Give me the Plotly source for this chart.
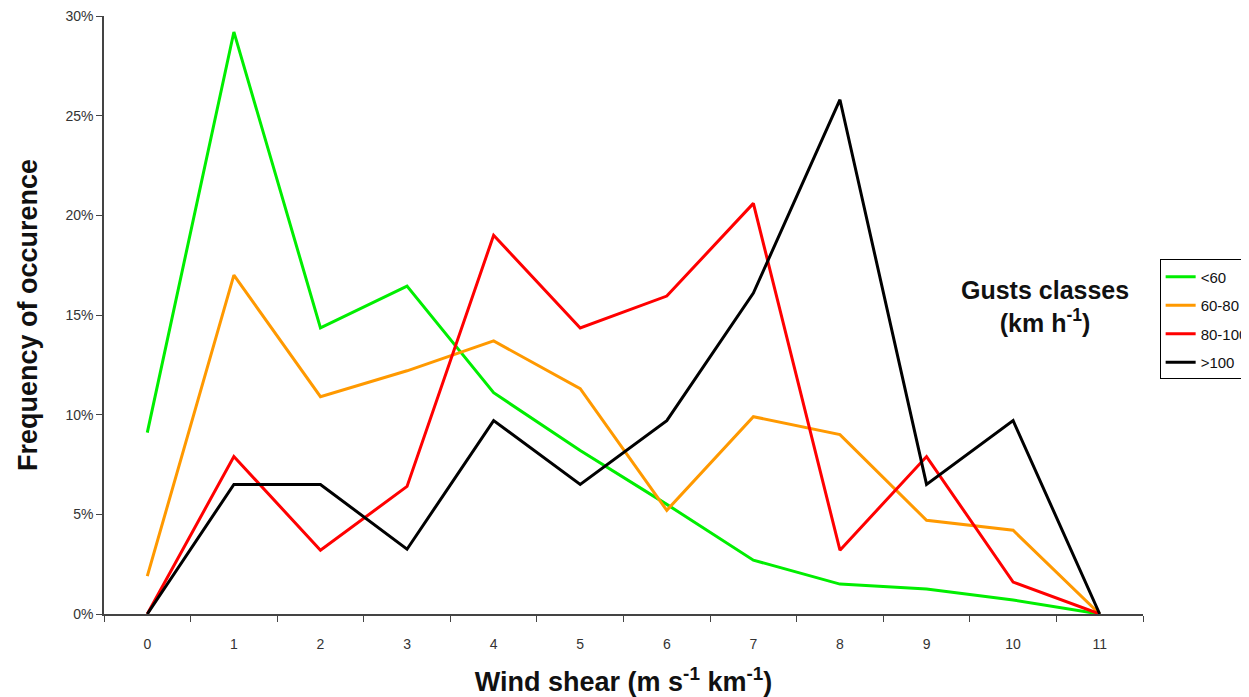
import plotly.graph_objects as go

categories = ["0", "1", "2", "3", "4", "5", "6", "7", "8", "9", "10", "11"]
lt60 = [9.1, 29.2, 14.35, 16.45, 11.1, 8.2, 5.5, 2.7, 1.5, 1.25, 0.7, 0.0]
g60_80 = [1.9, 17.0, 10.9, 12.2, 13.7, 11.3, 5.2, 9.9, 9.0, 4.7, 4.2, 0.0]
g80_100 = [0.0, 7.9, 3.2, 6.4, 19.0, 14.35, 15.95, 20.6, 3.2, 7.9, 1.6, 0.0]
gt100 = [0.0, 6.5, 6.5, 3.25, 9.7, 6.5, 9.7, 16.1, 25.8, 6.5, 9.7, 0.0]
series_names = ["<60", "60-80", "80-100", ">100"]
series_colors = ["#00ee00", "#ff9900", "#ff0000", "#000000"]
y_ticks = [0, 5, 10, 15, 20, 25, 30]
y_ticklabels = ["0%", "5%", "10%", "15%", "20%", "25%", "30%"]

fig = go.Figure()
for i, (name, vals, col) in enumerate(zip(series_names, [lt60, g60_80, g80_100, gt100], series_colors)):
    fig.add_trace(go.Scatter(
        x=categories, y=vals, mode="lines", name=name, legendgroup=f"g{i}",
        line=dict(color=col, width=3),
    ))

fig.update_layout(
    width=1241, height=689,
    margin=dict(l=96, r=106, t=8, b=83, autoexpand=False),
    plot_bgcolor="white", paper_bgcolor="white",
    font=dict(family="Arial, Liberation Sans, sans-serif", color="#222"),
    showlegend=True,
    legend=dict(
        xref="container", yref="container",
        x=0.928, y=0.635, xanchor="left", yanchor="top",
        bordercolor="#000", borderwidth=1, bgcolor="white",
        font=dict(size=15, color="#111"), traceorder="grouped", tracegroupgap=6,
    ),
    xaxis=dict(
        type="category", range=[-0.5, 11.5], automargin=False,
        tickson="boundaries", ticks="outside", ticklen=6, tickcolor="#444",
        ticklabelstandoff=16, ticklabeloverflow="allow",
        showline=True, linecolor="#444", linewidth=1.5, showgrid=False,
        tickfont=dict(size=14, color="#333"),
        title=dict(text="<b>Wind shear (m s<sup>-1</sup> km<sup>-1</sup>)</b>",
                   font=dict(size=27, color="#111"), standoff=22),
    ),
    yaxis=dict(
        range=[0, 30], tickvals=y_ticks, ticktext=y_ticklabels, automargin=False,
        ticks="outside", ticklen=6, tickcolor="#444", ticklabeloverflow="allow",
        showline=True, linecolor="#444", linewidth=1.5, showgrid=False,
        zeroline=False,
        tickfont=dict(size=14, color="#333"),
        title=dict(text="<b>Frequency of occurence</b>",
                   font=dict(size=27, color="#111"), standoff=20),
    ),
    annotations=[dict(
        x=0.906, xref="paper", y=0.515, yref="paper", showarrow=False,
        text="<b>Gusts classes<br>(km h<sup>-1</sup>)</b>",
        font=dict(size=25, color="#111"), align="center",
        xanchor="center", yanchor="middle",
    )],
)

fig.write_html("out.html")
